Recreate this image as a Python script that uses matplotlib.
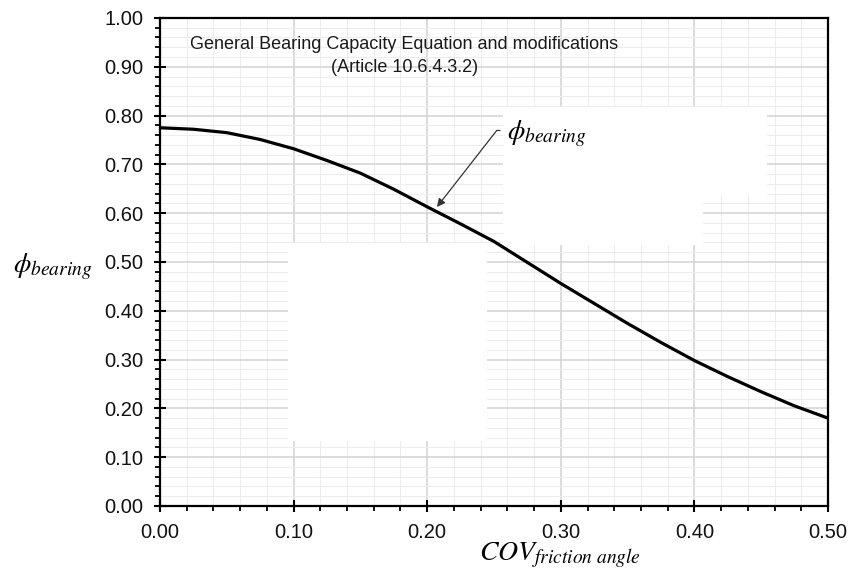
import numpy as np
import matplotlib.pyplot as plt
from matplotlib.patches import Rectangle
from matplotlib.ticker import MultipleLocator, FormatStrFormatter

plt.rcParams['mathtext.fontset'] = 'stix'

# data
cov = [0.0, 0.025, 0.05, 0.075, 0.10, 0.125, 0.15, 0.175, 0.20, 0.225, 0.25,
       0.275, 0.30, 0.325, 0.35, 0.375, 0.40, 0.425, 0.45, 0.475, 0.50]
phi = [0.775, 0.772, 0.765, 0.751, 0.732, 0.708, 0.682, 0.649, 0.613, 0.578, 0.542,
       0.499, 0.456, 0.415, 0.374, 0.335, 0.298, 0.265, 0.234, 0.205, 0.180]

title_lines = ["General Bearing Capacity Equation and modifications", "(Article 10.6.4.3.2)"]

# white blanked-out patches in the source picture (x0, y0, x1, y1 in data units)
masks = [(0.0958, 0.133, 0.2448, 0.539),
         (0.2567, 0.637, 0.4543, 0.8176),
         (0.2567, 0.535, 0.4064, 0.637)]

fig = plt.figure(figsize=(8.51, 5.78), dpi=100)
ax = fig.add_axes([0.188, 0.1246, 0.785, 0.8443])

ax.set_xlim(0, 0.5)
ax.set_ylim(0, 1.0)
ax.xaxis.set_major_locator(MultipleLocator(0.1))
ax.xaxis.set_minor_locator(MultipleLocator(0.02))
ax.yaxis.set_major_locator(MultipleLocator(0.1))
ax.yaxis.set_minor_locator(MultipleLocator(0.02))
ax.xaxis.set_major_formatter(FormatStrFormatter('%.2f'))
ax.yaxis.set_major_formatter(FormatStrFormatter('%.2f'))

ax.grid(which='major', color='#d2d2d2', lw=1.1, zorder=0)
ax.grid(which='minor', color='#ededed', lw=0.8, zorder=0)
ax.set_axisbelow(True)

for s in ax.spines.values():
    s.set_linewidth(1.6)
    s.set_zorder(5)

ax.tick_params(which='major', direction='inout', length=9, width=1.5, pad=7.5,
               labelsize=14.5)
ax.tick_params(which='minor', direction='out', length=3.5, width=1.3)
for lab in ax.get_xticklabels() + ax.get_yticklabels():
    lab.set_family(['Liberation Sans', 'DejaVu Sans'])
    lab.set_color('#111111')

for x0, y0, x1, y1 in masks:
    ax.add_patch(Rectangle((x0, y0), x1 - x0, y1 - y0, facecolor='white',
                           edgecolor='none', zorder=1))

ax.plot(cov, phi, color='black', lw=2.3, zorder=3)

ax.text(0.183, 0.963, title_lines[0] + "\n" + title_lines[1], ha='center', va='top',
        fontsize=13, family=['Liberation Sans', 'DejaVu Sans'],
        color='#1a1a1a', linespacing=1.45, zorder=4)

ax.annotate(r'$\phi_{bearing}$', xy=(0.2073, 0.6127), xytext=(0.2597, 0.762),
            ha='left', va='center', fontsize=20, zorder=4,
            arrowprops=dict(arrowstyle='-|>', color='#333333', lw=0.9,
                            mutation_scale=12, shrinkA=3, shrinkB=0,
                            relpos=(0.0, 0.62),
                            connectionstyle='angle,angleA=180,angleB=52,rad=0'))

ax.text(-0.161, 0.49, r'$\phi_{bearing}$', transform=ax.transAxes, ha='center',
        va='center', fontsize=20)
ax.text(0.599, -0.102, r'$COV_{friction\ angle}$', transform=ax.transAxes,
        ha='center', va='center', fontsize=20)

fig.savefig('out.png', dpi=100)
